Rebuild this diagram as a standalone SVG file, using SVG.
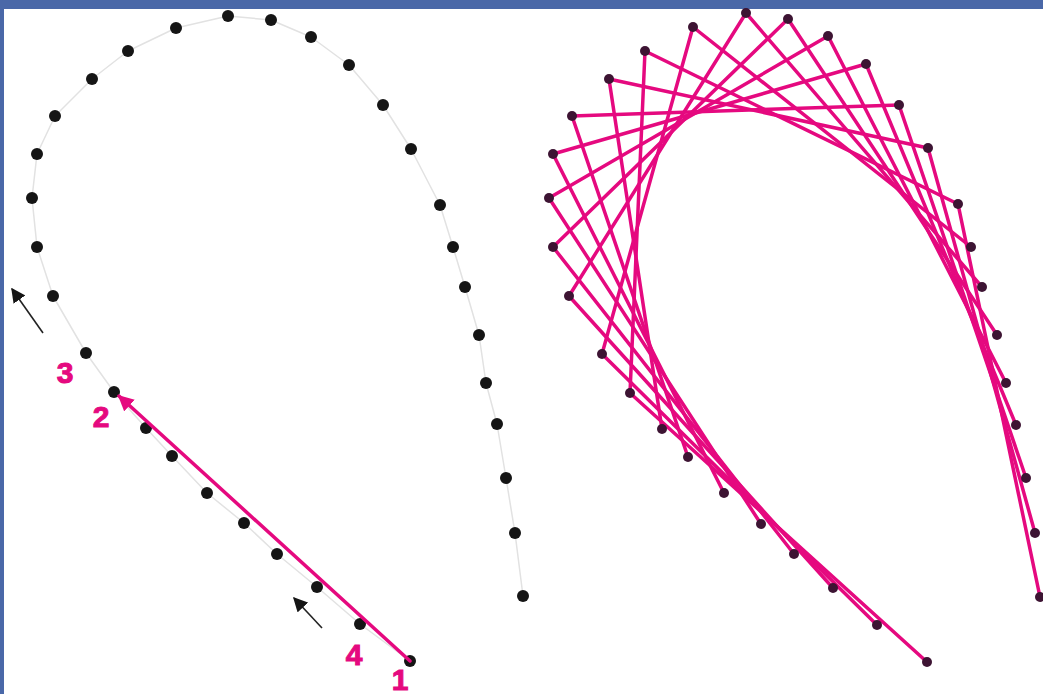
<svg xmlns="http://www.w3.org/2000/svg" width="1043" height="694" viewBox="0 0 1043 694">
<style>
.dot{fill:#151515}
.rdot{fill:#3d1433}
.guide{fill:none;stroke:#e2e2e2;stroke-width:1.5;stroke-linejoin:round}
.chord{stroke:#e5097f;stroke-width:3.5;stroke-linecap:round}
.lbl{font-family:"Liberation Sans",Arial,sans-serif;font-weight:bold;font-size:30px;fill:#e5097f;stroke:#e5097f;stroke-width:1;text-anchor:middle}
.blk{stroke:#222;stroke-width:1.6}
</style>
<defs>
<marker id="ah" viewBox="0 0 10 10" refX="9" refY="5" markerWidth="4.5" markerHeight="4.5" orient="auto" markerUnits="strokeWidth"><path d="M0,0 L10,5 L0,10 z" fill="#e5097f"/></marker>
<marker id="bh" viewBox="0 0 10 10" refX="9" refY="5" markerWidth="9" markerHeight="9" orient="auto" markerUnits="strokeWidth"><path d="M0,0 L10,5 L0,10 z" fill="#151515"/></marker>
</defs>
<rect width="1043" height="694" fill="#ffffff"/>
<rect x="0" y="0" width="1043" height="9" fill="#4a68a8"/>
<rect x="0" y="0" width="4" height="694" fill="#4a68a8"/>
<polyline class="guide" points="410,661 360,624 317,587 277,554 244,523 207,493 172,456 146,428 114,392 86,353 53,296 37,247 32,198 37,154 55,116 92,79 128,51 176,28 228,16 271,20 311,37 349,65 383,105 411,149 440,205 453,247 465,287 479,335 486,383 497,424 506,478 515,533 523,596"/>
<g id="left-dots">
<g id="L0"><circle class="dot" cx="410" cy="661" r="6"/></g>
<g id="L1"><circle class="dot" cx="360" cy="624" r="6"/></g>
<g id="L2"><circle class="dot" cx="317" cy="587" r="6"/></g>
<g id="L3"><circle class="dot" cx="277" cy="554" r="6"/></g>
<g id="L4"><circle class="dot" cx="244" cy="523" r="6"/></g>
<g id="L5"><circle class="dot" cx="207" cy="493" r="6"/></g>
<g id="L6"><circle class="dot" cx="172" cy="456" r="6"/></g>
<g id="L7"><circle class="dot" cx="146" cy="428" r="6"/></g>
<g id="L8"><circle class="dot" cx="114" cy="392" r="6"/></g>
<g id="L9"><circle class="dot" cx="86" cy="353" r="6"/></g>
<g id="L10"><circle class="dot" cx="53" cy="296" r="6"/></g>
<g id="L11"><circle class="dot" cx="37" cy="247" r="6"/></g>
<g id="L12"><circle class="dot" cx="32" cy="198" r="6"/></g>
<g id="L13"><circle class="dot" cx="37" cy="154" r="6"/></g>
<g id="L14"><circle class="dot" cx="55" cy="116" r="6"/></g>
<g id="L15"><circle class="dot" cx="92" cy="79" r="6"/></g>
<g id="L16"><circle class="dot" cx="128" cy="51" r="6"/></g>
<g id="L17"><circle class="dot" cx="176" cy="28" r="6"/></g>
<g id="L18"><circle class="dot" cx="228" cy="16" r="6"/></g>
<g id="L19"><circle class="dot" cx="271" cy="20" r="6"/></g>
<g id="L20"><circle class="dot" cx="311" cy="37" r="6"/></g>
<g id="L21"><circle class="dot" cx="349" cy="65" r="6"/></g>
<g id="L22"><circle class="dot" cx="383" cy="105" r="6"/></g>
<g id="L23"><circle class="dot" cx="411" cy="149" r="6"/></g>
<g id="L24"><circle class="dot" cx="440" cy="205" r="6"/></g>
<g id="L25"><circle class="dot" cx="453" cy="247" r="6"/></g>
<g id="L26"><circle class="dot" cx="465" cy="287" r="6"/></g>
<g id="L27"><circle class="dot" cx="479" cy="335" r="6"/></g>
<g id="L28"><circle class="dot" cx="486" cy="383" r="6"/></g>
<g id="L29"><circle class="dot" cx="497" cy="424" r="6"/></g>
<g id="L30"><circle class="dot" cx="506" cy="478" r="6"/></g>
<g id="L31"><circle class="dot" cx="515" cy="533" r="6"/></g>
<g id="L32"><circle class="dot" cx="523" cy="596" r="6"/></g>
</g>
<g id="left-connectors">
<line class="chord" x1="410" y1="661" x2="119" y2="396" stroke-width="3.5" marker-end="url(#ah)"/>
<line class="blk" x1="43" y1="333" x2="12" y2="289" marker-end="url(#bh)"/>
<line class="blk" x1="322" y1="628" x2="294" y2="598" marker-end="url(#bh)"/>
</g>
<g id="labels">
<text class="lbl" x="65" y="383">3</text>
<text class="lbl" x="101" y="427">2</text>
<text class="lbl" x="354" y="665">4</text>
<text class="lbl" x="400" y="690">1</text>
</g>
<g id="right-connectors">
<line class="chord" x1="927" y1="662" x2="630" y2="393"/>
<line class="chord" x1="877" y1="625" x2="602" y2="354"/>
<line class="chord" x1="833" y1="588" x2="569" y2="296"/>
<line class="chord" x1="794" y1="554" x2="553" y2="247"/>
<line class="chord" x1="761" y1="524" x2="549" y2="198"/>
<line class="chord" x1="724" y1="493" x2="553" y2="154"/>
<line class="chord" x1="688" y1="457" x2="572" y2="116"/>
<line class="chord" x1="662" y1="429" x2="609" y2="79"/>
<line class="chord" x1="630" y1="393" x2="645" y2="51"/>
<line class="chord" x1="602" y1="354" x2="693" y2="27"/>
<line class="chord" x1="569" y1="296" x2="746" y2="13"/>
<line class="chord" x1="553" y1="247" x2="788" y2="19"/>
<line class="chord" x1="549" y1="198" x2="828" y2="36"/>
<line class="chord" x1="553" y1="154" x2="866" y2="64"/>
<line class="chord" x1="572" y1="116" x2="899" y2="105"/>
<line class="chord" x1="609" y1="79" x2="928" y2="148"/>
<line class="chord" x1="645" y1="51" x2="958" y2="204"/>
<line class="chord" x1="693" y1="27" x2="971" y2="247"/>
<line class="chord" x1="746" y1="13" x2="982" y2="287"/>
<line class="chord" x1="788" y1="19" x2="997" y2="335"/>
<line class="chord" x1="828" y1="36" x2="1006" y2="383"/>
<line class="chord" x1="866" y1="64" x2="1016" y2="425"/>
<line class="chord" x1="899" y1="105" x2="1026" y2="478"/>
<line class="chord" x1="928" y1="148" x2="1035" y2="533"/>
<line class="chord" x1="958" y1="204" x2="1040" y2="597"/>
</g>
<g id="right-dots">
<g id="R0"><circle class="rdot" cx="927" cy="662" r="5"/></g>
<g id="R1"><circle class="rdot" cx="877" cy="625" r="5"/></g>
<g id="R2"><circle class="rdot" cx="833" cy="588" r="5"/></g>
<g id="R3"><circle class="rdot" cx="794" cy="554" r="5"/></g>
<g id="R4"><circle class="rdot" cx="761" cy="524" r="5"/></g>
<g id="R5"><circle class="rdot" cx="724" cy="493" r="5"/></g>
<g id="R6"><circle class="rdot" cx="688" cy="457" r="5"/></g>
<g id="R7"><circle class="rdot" cx="662" cy="429" r="5"/></g>
<g id="R8"><circle class="rdot" cx="630" cy="393" r="5"/></g>
<g id="R9"><circle class="rdot" cx="602" cy="354" r="5"/></g>
<g id="R10"><circle class="rdot" cx="569" cy="296" r="5"/></g>
<g id="R11"><circle class="rdot" cx="553" cy="247" r="5"/></g>
<g id="R12"><circle class="rdot" cx="549" cy="198" r="5"/></g>
<g id="R13"><circle class="rdot" cx="553" cy="154" r="5"/></g>
<g id="R14"><circle class="rdot" cx="572" cy="116" r="5"/></g>
<g id="R15"><circle class="rdot" cx="609" cy="79" r="5"/></g>
<g id="R16"><circle class="rdot" cx="645" cy="51" r="5"/></g>
<g id="R17"><circle class="rdot" cx="693" cy="27" r="5"/></g>
<g id="R18"><circle class="rdot" cx="746" cy="13" r="5"/></g>
<g id="R19"><circle class="rdot" cx="788" cy="19" r="5"/></g>
<g id="R20"><circle class="rdot" cx="828" cy="36" r="5"/></g>
<g id="R21"><circle class="rdot" cx="866" cy="64" r="5"/></g>
<g id="R22"><circle class="rdot" cx="899" cy="105" r="5"/></g>
<g id="R23"><circle class="rdot" cx="928" cy="148" r="5"/></g>
<g id="R24"><circle class="rdot" cx="958" cy="204" r="5"/></g>
<g id="R25"><circle class="rdot" cx="971" cy="247" r="5"/></g>
<g id="R26"><circle class="rdot" cx="982" cy="287" r="5"/></g>
<g id="R27"><circle class="rdot" cx="997" cy="335" r="5"/></g>
<g id="R28"><circle class="rdot" cx="1006" cy="383" r="5"/></g>
<g id="R29"><circle class="rdot" cx="1016" cy="425" r="5"/></g>
<g id="R30"><circle class="rdot" cx="1026" cy="478" r="5"/></g>
<g id="R31"><circle class="rdot" cx="1035" cy="533" r="5"/></g>
<g id="R32"><circle class="rdot" cx="1040" cy="597" r="5"/></g>
</g>
</svg>
